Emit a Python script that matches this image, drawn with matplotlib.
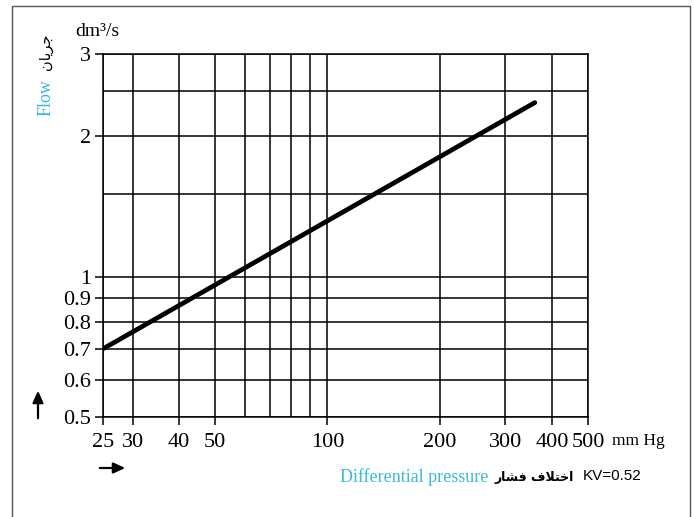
import matplotlib
matplotlib.use("Agg")
import matplotlib.pyplot as plt
from matplotlib.patches import Rectangle, FancyArrowPatch
from matplotlib.ticker import FixedLocator, NullFormatter, FixedFormatter

# data
dp_values = [25, 360]            # differential pressure, mm Hg
flow_values = [0.70, 2.36]       # flow, dm3/s
x_major = [25, 30, 40, 50, 100, 200, 300, 400, 500]
x_major_labels = ["25", "30", "40", "50", "100", "200", "300", "400", "500"]
x_minor = [60, 70, 80, 90]
y_major = [0.5, 0.6, 0.7, 0.8, 0.9, 1, 2, 3]
y_major_labels = ["0.5", "0.6", "0.7", "0.8", "0.9", "1", "2", "3"]
y_minor = [1.5, 2.5]

CYAN = "#3bb9dc"
W, H = 694, 517

def fx(px):
    return px / W

def fy(py):
    return 1 - py / H

fig = plt.figure(figsize=(W / 100, H / 100), dpi=100)
fig.patch.set_facecolor("white")

# outer frame
fig.patches.append(Rectangle((fx(12), fy(530)), fx(690) - fx(12), fy(6) - fy(530),
                             transform=fig.transFigure, fill=False,
                             edgecolor="#555555", linewidth=1.0))

ax = fig.add_axes([fx(103), fy(417), fx(588) - fx(103), fy(54) - fy(417)])
ax.set_xscale("log")
ax.set_yscale("log")
ax.set_xlim(25, 500)
ax.set_ylim(0.5, 3)

serif = "Liberation Serif"
ax.xaxis.set_major_locator(FixedLocator(x_major))
ax.xaxis.set_major_formatter(FixedFormatter(x_major_labels))
ax.xaxis.set_minor_locator(FixedLocator(x_minor))
ax.xaxis.set_minor_formatter(NullFormatter())
ax.yaxis.set_major_locator(FixedLocator(y_major))
ax.yaxis.set_major_formatter(FixedFormatter(y_major_labels))
ax.yaxis.set_minor_locator(FixedLocator(y_minor))
ax.yaxis.set_minor_formatter(NullFormatter())

ax.tick_params(axis="both", which="major", direction="out", length=6, width=1.1,
               color="black", labelsize=16)
ax.tick_params(axis="x", which="major", pad=5.5)
ax.tick_params(axis="y", which="major", pad=2.5)
ax.tick_params(axis="both", which="minor", length=0)
for lab in ax.get_xticklabels() + ax.get_yticklabels():
    lab.set_fontfamily(serif)

ax.grid(True, which="both", color="black", linewidth=1.1)
for s in ax.spines.values():
    s.set_linewidth(1.1)
    s.set_color("black")

ax.plot(dp_values, flow_values, color="black", linewidth=3.4, solid_capstyle="round", zorder=5)

# axis texts
fig.text(fx(612), fy(441), "mm Hg", fontfamily=serif, fontsize=12.5, ha="left", va="center")
fig.text(fx(75), fy(32), "dm\u00b3/s", fontfamily=serif, fontsize=14, ha="left", va="center")

fig.text(fx(46), fy(98), "Flow", fontfamily=serif, fontsize=13, color=CYAN,
         rotation=90, ha="center", va="center")
persian_flow = "\uFEE5\uFE8E\uFEF3\uFEAE\uFE9F"
fig.text(fx(46), fy(52), persian_flow, fontfamily="DejaVu Sans", fontsize=10.5,
         color="black", rotation=90, ha="center", va="center")

fig.text(fx(340), fy(477), "Differential pressure", fontfamily=serif, fontsize=13,
         color=CYAN, ha="left", va="center")
persian_dp = "\uFEAD\uFE8E\uFEB8\uFED3 \uFED1\uFEFC\uFE98\uFEA7\uFE8D"
fig.text(fx(495), fy(477), persian_dp, fontfamily="DejaVu Sans", fontsize=9,
         fontweight="bold", color="black", ha="left", va="center")
fig.text(fx(583), fy(476), "KV=0.52", fontfamily="Liberation Sans", fontsize=11,
         color="black", ha="left", va="center")

# arrows
fig.add_artist(FancyArrowPatch((fx(38), fy(421)), (fx(38), fy(388)),
               transform=fig.transFigure, arrowstyle="-|>,head_length=7,head_width=3.2",
               color="black", linewidth=1.6, mutation_scale=1))
fig.add_artist(FancyArrowPatch((fx(97), fy(468)), (fx(128), fy(468)),
               transform=fig.transFigure, arrowstyle="-|>,head_length=7,head_width=3.2",
               color="black", linewidth=1.6, mutation_scale=1))

fig.savefig("out.png", dpi=100)
